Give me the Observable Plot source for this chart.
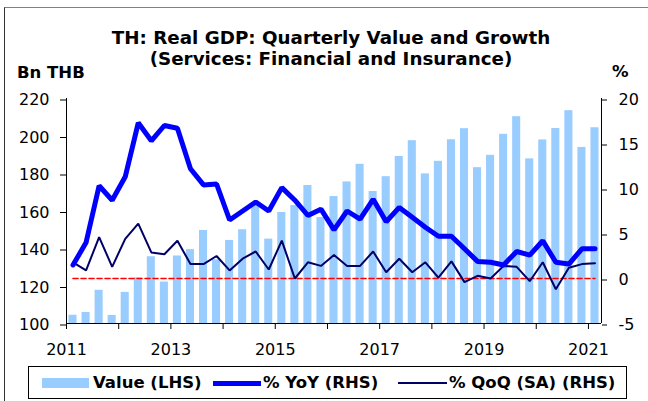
<!DOCTYPE html>
<html><head><meta charset="utf-8">
<script src="https://cdn.jsdelivr.net/npm/d3@7"></script>
<script src="https://cdn.jsdelivr.net/npm/@observablehq/plot@0.6"></script>
<style>
body{margin:0;background:#fff;}
#wrap{position:relative;width:648px;height:401px;overflow:hidden;font-family:"DejaVu Sans",sans-serif;color:#000;}
#wrap svg{position:absolute;left:0;top:0;}
.frame{position:absolute;left:4px;top:7px;width:644px;height:400px;border-top:1.5px solid #808080;border-left:1px solid #333;}
.t{position:absolute;white-space:nowrap;font-weight:bold;}
.title{left:0;width:662px;text-align:center;font-size:18.3px;line-height:21px;}
.legend{position:absolute;left:28px;top:366px;width:597px;height:31px;border:1px solid #000;background:#fff;}
.li{position:absolute;font-weight:bold;font-size:16.5px;line-height:20px;top:6px;white-space:nowrap;}
.sw{position:absolute;}
</style></head><body><div id="wrap"><div class="frame"></div></div><script>
// ---- data ----
const quarters = ["2011Q1","2011Q2","2011Q3","2011Q4","2012Q1","2012Q2","2012Q3","2012Q4",
"2013Q1","2013Q2","2013Q3","2013Q4","2014Q1","2014Q2","2014Q3","2014Q4",
"2015Q1","2015Q2","2015Q3","2015Q4","2016Q1","2016Q2","2016Q3","2016Q4",
"2017Q1","2017Q2","2017Q3","2017Q4","2018Q1","2018Q2","2018Q3","2018Q4",
"2019Q1","2019Q2","2019Q3","2019Q4","2020Q1","2020Q2","2020Q3","2020Q4","2021Q1"];
const valueLHS = [104.4,105.9,117.7,104.3,116.6,124.3,135.6,122.1,
136.0,139.4,149.6,134.0,144.3,150.0,162.9,145.0,
159.2,162.9,173.6,156.5,167.7,175.5,184.9,170.4,
178.3,189.1,197.5,179.8,186.5,198.0,203.9,183.1,
189.7,200.9,210.3,187.8,197.9,204.0,213.5,193.9,204.4];
const yoyRHS = [1.5,4.0,10.3,8.7,11.3,17.3,15.3,17.0,
16.7,12.2,10.4,10.5,6.5,7.5,8.5,7.5,
10.1,8.7,7.0,7.7,5.4,7.5,6.6,8.8,
6.3,7.9,6.8,5.7,4.7,4.7,3.3,1.9,
1.8,1.5,3.0,2.6,4.2,1.8,1.6,3.3,3.3];
const qoqRHS = [1.8,0.9,4.6,1.3,4.4,6.1,2.9,2.7,
4.2,1.6,1.6,2.5,0.9,2.2,3.0,1.0,
4.2,0.0,1.8,1.4,2.6,1.4,1.4,3.0,
0.7,2.2,0.7,1.8,0.1,1.9,-0.4,0.3,
0.0,1.4,1.3,-0.3,1.8,-1.2,1.2,1.6,1.7];
const leftTicks = [100,120,140,160,180,200,220];
const rightTicks = [-5,0,5,10,15,20];
const yearTicks = [2011,2012,2013,2014,2015,2016,2017,2018,2019,2020,2021];
const yearLabels = [2011,2013,2015,2017,2019,2021];

const data = quarters.map((q,i)=>({q, i, value:valueLHS[i], yoy:yoyRHS[i], qoq:qoqRHS[i]}));
const toLeft = r => 124 + 4.8*r; // right axis [-5,20] -> left axis [100,220]
const xTickPos = yearTicks.map(y => (y-2011)*4);

const chart = Plot.plot({
  width:648, height:401,
  marginLeft:66, marginRight:47, marginTop:98, marginBottom:78,
  x:{domain:[0,quarters.length], axis:null},
  y:{domain:[100,220], axis:null},
  style:{fontFamily:"DejaVu Sans", fontSize:"16px", color:"#000", background:"transparent", overflow:"visible"},
  marks:[
    Plot.rectY(data,{x1:"i", x2:d=>d.i+1, y1:100, y2:"value", fill:"#99ccff", insetLeft:2.5, insetRight:2.5}),
    Plot.lineY(data,{x:d=>d.i+0.5, y:()=>toLeft(0), stroke:"#ff0000", strokeWidth:1.6, strokeDasharray:"5,3"}),
    Plot.lineY(data,{x:d=>d.i+0.5, y:d=>toLeft(d.qoq), stroke:"#000066", strokeWidth:2, strokeLinejoin:"miter"}),
    Plot.lineY(data,{x:d=>d.i+0.5, y:d=>toLeft(d.yoy), stroke:"#0000ff", strokeWidth:5, strokeLinejoin:"miter"}),
    Plot.ruleX([0],{y1:100, y2:220, stroke:"#000"}),
    Plot.ruleX([quarters.length],{y1:100, y2:220, stroke:"#000"}),
    Plot.ruleY([100],{x1:0, x2:quarters.length, stroke:"#000"}),
    Plot.axisY(leftTicks,{anchor:"left", tickSize:6, tickPadding:11, fontSize:16, label:null, dy:1.5}),
    Plot.axisY(rightTicks,{anchor:"right", y:toLeft, tickSize:5, tickPadding:12, fontSize:16, label:null, dy:1.5, tickFormat:d=>String(d)}),
    Plot.axisX(xTickPos,{anchor:"bottom", tickSize:6, tickPadding:14, fontSize:16, label:null,
      tickFormat:d=>{const y=2011+d/4; return yearLabels.includes(y)?String(y):"";}})
  ]
});
const wrap = document.getElementById("wrap");
wrap.appendChild(chart);

function addText(cls, txt, css){const e=document.createElement("div");e.className=cls;e.textContent=txt;Object.assign(e.style,css);wrap.appendChild(e);return e;}
addText("t title","TH: Real GDP: Quarterly Value and Growth",{top:"26.5px"});
addText("t title","(Services: Financial and Insurance)",{top:"47.5px"});
addText("t","Bn THB",{left:"17px",top:"62.5px",fontSize:"16.5px",lineHeight:"20px"});
addText("t","%",{left:"612px",top:"62px",fontSize:"16.5px",lineHeight:"20px"});

const lg = document.createElement("div"); lg.className="legend"; wrap.appendChild(lg);
function sw(css){const e=document.createElement("div");e.className="sw";Object.assign(e.style,css);lg.appendChild(e);}
function li(txt,left){const e=document.createElement("div");e.className="li";e.textContent=txt;e.style.left=left+"px";lg.appendChild(e);}
sw({left:"13px",top:"11px",width:"47px",height:"10px",background:"#99ccff"});
li("Value (LHS)",64);
sw({left:"184px",top:"14px",width:"48px",height:"4.5px",background:"#0000ff"});
li("% YoY (RHS)",234);
sw({left:"369px",top:"15px",width:"49px",height:"2px",background:"#000066"});
li("% QoQ (SA) (RHS)",420);
</script></body></html>
